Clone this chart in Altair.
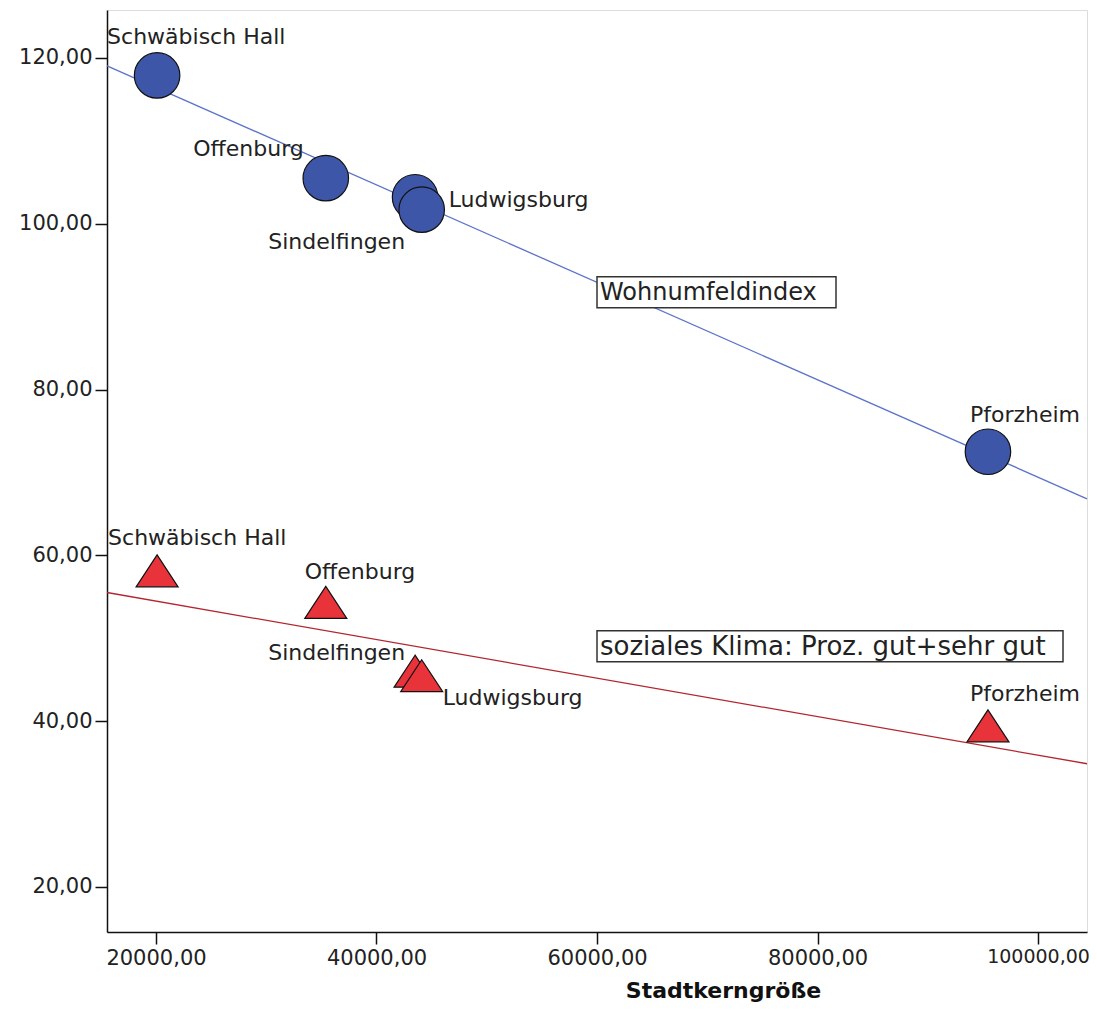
import altair as alt
import pandas as pd

# ---- data ----
cities = ["Schwäbisch Hall", "Offenburg", "Sindelfingen", "Ludwigsburg", "Pforzheim"]
stadtkern = [20100, 35400, 43500, 44100, 95460]
wohnumfeld = [117.9, 105.5, 103.2, 101.7, 72.5]
sozial = [57.5, 53.7, 45.4, 44.85, 38.8]
series_names = ["Wohnumfeldindex", "soziales Klima: Proz. gut+sehr gut"]
box_x = [60000, 60000]
box_y = [91.8, 49.1]
x_ticks = [20000, 40000, 60000, 80000, 100000]
y_ticks = [20, 40, 60, 80, 100, 120]

X_DOMAIN = [15556, 104444]
Y_DOMAIN = [14.57, 125.79]

FONT = "DejaVu Sans"
BLUE_FILL = "#3d56a8"
BLUE_LINE = "#5b73c9"
RED_FILL = "#e8333a"
RED_LINE = "#b3262f"

df_w = pd.DataFrame({"city": cities, "x": stadtkern, "y": wohnumfeld, "series": series_names[0]})
df_s = pd.DataFrame({"city": cities, "x": stadtkern, "y": sozial, "series": series_names[1]})
df_all = pd.concat([df_w, df_s], ignore_index=True)
df_box = pd.DataFrame({"x": box_x, "y": box_y, "label": series_names})

xs = alt.Scale(domain=X_DOMAIN, nice=False, zero=False)
ys = alt.Scale(domain=Y_DOMAIN, nice=False, zero=False)

fmt = "replace(format(datum.value, '.2f'), '.', ',')"

x_axis = alt.Axis(values=x_ticks, labelExpr=fmt, title="Stadtkerngröße", grid=False,
                  tickSize=12, tickWidth=1.5, tickColor="#111", domainColor="#111", domainWidth=1.5,
                  labelFont=FONT,
                  labelFontSize={"condition": {"test": "datum.value >= 100000", "value": 19}, "value": 21},
                  labelColor="#222", labelPadding=3,
                  titleFont=FONT, titleFontSize=22, titleFontWeight="bold", titleColor="#111",
                  titleX=616, titleY=65, titleBaseline="alphabetic", titleAnchor="middle",
                  labelFlush=False)
y_axis = alt.Axis(values=y_ticks, labelExpr=fmt, title=None, grid=False,
                  tickSize=12, tickWidth=1.5, tickColor="#111", domainColor="#111", domainWidth=1.5,
                  labelFont=FONT, labelFontSize=21, labelColor="#222", labelPadding=3)

X = alt.X("x:Q", scale=xs, axis=x_axis)
Y = alt.Y("y:Q", scale=ys, axis=y_axis)
Xn = alt.X("x:Q", scale=xs)
Yn = alt.Y("y:Q", scale=ys)

base_w = alt.Chart(df_w)
base_s = alt.Chart(df_s)

reg_w = base_w.transform_regression("x", "y", extent=X_DOMAIN).mark_line(
    color=BLUE_LINE, strokeWidth=1.3).encode(x=X, y=Y)
reg_s = base_s.transform_regression("x", "y", extent=X_DOMAIN).mark_line(
    color=RED_LINE, strokeWidth=1.3).encode(x=Xn, y=Yn)

pts_w = base_w.mark_point(shape="circle", size=2070, filled=True, fill=BLUE_FILL,
                          stroke="#111", strokeWidth=1.2, opacity=1).encode(x=Xn, y=Yn)
# triangle whose centroid sits on the data point
pts_s = base_s.mark_point(shape="M0,-1.01L-1,0.51L1,0.51Z", size=1764, filled=True, fill=RED_FILL,
                          stroke="#111", strokeWidth=1.2, opacity=1).encode(x=Xn, y=Yn)

# label placement (align, dx, dy) for each point label
label_place = {
    (series_names[0], "Schwäbisch Hall"): ("left", -50, -38),
    (series_names[0], "Offenburg"): ("right", -22, -29),
    (series_names[0], "Sindelfingen"): ("right", -10, 45),
    (series_names[0], "Ludwigsburg"): ("left", 27, -10),
    (series_names[0], "Pforzheim"): ("left", -18, -37),
    (series_names[1], "Schwäbisch Hall"): ("left", -49, -38),
    (series_names[1], "Offenburg"): ("left", -21, -36),
    (series_names[1], "Sindelfingen"): ("right", -10, -23),
    (series_names[1], "Ludwigsburg"): ("left", 21, 17),
    (series_names[1], "Pforzheim"): ("left", -18, -37),
}

label_layers = []
for (s, c), (al, dx, dy) in label_place.items():
    label_layers.append(
        alt.Chart(df_all).transform_filter((alt.datum.series == s) & (alt.datum.city == c))
        .mark_text(align=al, baseline="middle", dx=dx, dy=dy, font=FONT, fontSize=22, color="#222")
        .encode(x=Xn, y=Yn, text="city:N")
    )

box_w = [239, 466]
box_fs = [24, 26]
box_layers = []
for i, lab in enumerate(series_names):
    sub = alt.Chart(df_box).transform_filter(alt.datum.label == lab)
    box_layers.append(sub.mark_rect(fill="white", stroke="#333", strokeWidth=1.5,
                                    x2Offset=box_w[i], yOffset=-15, y2Offset=16)
                      .encode(x=Xn, x2="x:Q", y=Yn, y2="y:Q"))
    box_layers.append(sub.mark_text(align="left", baseline="middle", dx=3, dy=1, font=FONT,
                                    fontSize=box_fs[i], color="#222")
                      .encode(x=Xn, y=Yn, text="label:N"))

chart = alt.layer(reg_w, reg_s, *box_layers, pts_w, pts_s, *label_layers).properties(
    width=980, height=922,
    autosize=alt.AutoSizeParams(type="none"),
    padding={"left": 99, "top": 2, "right": 2, "bottom": 70},
).configure_view(stroke="#555", strokeWidth=2).configure(background="white")

chart.save("out.html", embed_options={"renderer": "svg", "actions": False})
